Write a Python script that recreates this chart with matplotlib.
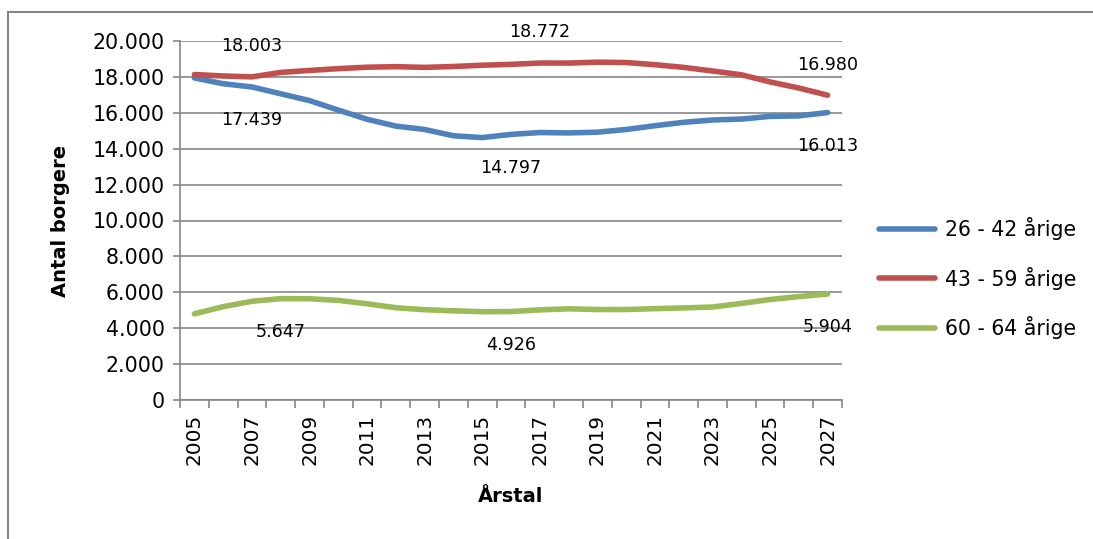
import numpy as np
import matplotlib.pyplot as plt
from matplotlib.ticker import FuncFormatter

years = np.arange(2005, 2028)

# 26 - 42 aarige
blue = [17943, 17620, 17439, 17060, 16680, 16150, 15640, 15260, 15070, 14720, 14620,
        14797, 14900, 14880, 14920, 15070, 15280, 15470, 15600, 15650, 15800, 15830, 16013]
# 43 - 59 aarige
red = [18133, 18050, 18003, 18250, 18360, 18460, 18540, 18570, 18530, 18580, 18650,
       18700, 18772, 18770, 18820, 18800, 18680, 18530, 18330, 18120, 17720, 17380, 16980]
# 60 - 64 aarige
green = [4800, 5200, 5500, 5647, 5640, 5550, 5360, 5140, 5030, 4970, 4920,
         4926, 5020, 5080, 5040, 5040, 5090, 5130, 5180, 5380, 5600, 5760, 5904]

labels = ['26 - 42 årige', '43 - 59 årige', '60 - 64 årige']
colors = ['#4F81BD', '#C0504D', '#9BBB59']

# data labels: (serie, year, above?)
point_labels = [(1, 2007, True), (0, 2007, False), (1, 2017, True), (0, 2016, False),
                (1, 2027, True), (0, 2027, False), (2, 2008, False), (2, 2016, False),
                (2, 2027, False)]

W, H = 1093, 539
fig = plt.figure(figsize=(W / 100, H / 100), dpi=100)
ax = fig.add_axes([180 / W, 1 - 400 / H, 662 / W, 359 / H])

series = [blue, red, green]
for vals, lab, c in zip(series, labels, colors):
    ax.plot(years, vals, color=c, lw=4.0, label=lab, solid_capstyle='round')

def dk(v, pos=None):
    return f'{v:,.0f}'.replace(',', '.')

for s, yr, above in point_labels:
    v = series[s][yr - 2005]
    ax.annotate(dk(v), (yr, v), xytext=(0, 22 if above else -24), textcoords='offset points',
                ha='center', va='center', fontsize=12.6)

ax.set_xlim(2004.5, 2027.5)
ax.set_ylim(0, 20000)
ax.set_yticks(np.arange(0, 20001, 2000))
ax.yaxis.set_major_formatter(FuncFormatter(dk))
ax.set_xticks(years[::2])
ax.set_xticklabels([str(y) for y in years[::2]], rotation=90)
ax.set_xticks(np.arange(2004.5, 2028, 1), minor=True)
ax.tick_params(axis='x', which='major', length=0, labelsize=14.4, pad=10)
ax.tick_params(axis='x', which='minor', length=6, color='#868686', width=1.2)
ax.tick_params(axis='y', length=5, color='#868686', width=1.2, labelsize=14.8, pad=6)

ax.grid(axis='y', color='#868686', lw=1.2)
ax.set_axisbelow(True)
for sp in ['top', 'right']:
    ax.spines[sp].set_visible(False)
for sp in ['left', 'bottom']:
    ax.spines[sp].set_color('#868686')
    ax.spines[sp].set_linewidth(1.2)

ax.set_ylabel('Antal borgere', fontsize=14, fontweight='bold', labelpad=16)
ax.set_xlabel('Årstal', fontsize=14, fontweight='bold', labelpad=16)

ax.legend(loc='center left', bbox_to_anchor=(879 / W, 1 - 278 / H), bbox_transform=fig.transFigure,
          frameon=False, fontsize=14.8, handlelength=2.7, handletextpad=0.5, labelspacing=1.3,
          borderpad=0, borderaxespad=0)

# chart area border
fig.add_artist(plt.Line2D([8 / W, 8 / W], [0, 1 - 12 / H], color='#868686', lw=1.5))
fig.add_artist(plt.Line2D([8 / W, 1], [1 - 12 / H, 1 - 12 / H], color='#868686', lw=1.5))

fig.savefig('out.png', dpi=100)
